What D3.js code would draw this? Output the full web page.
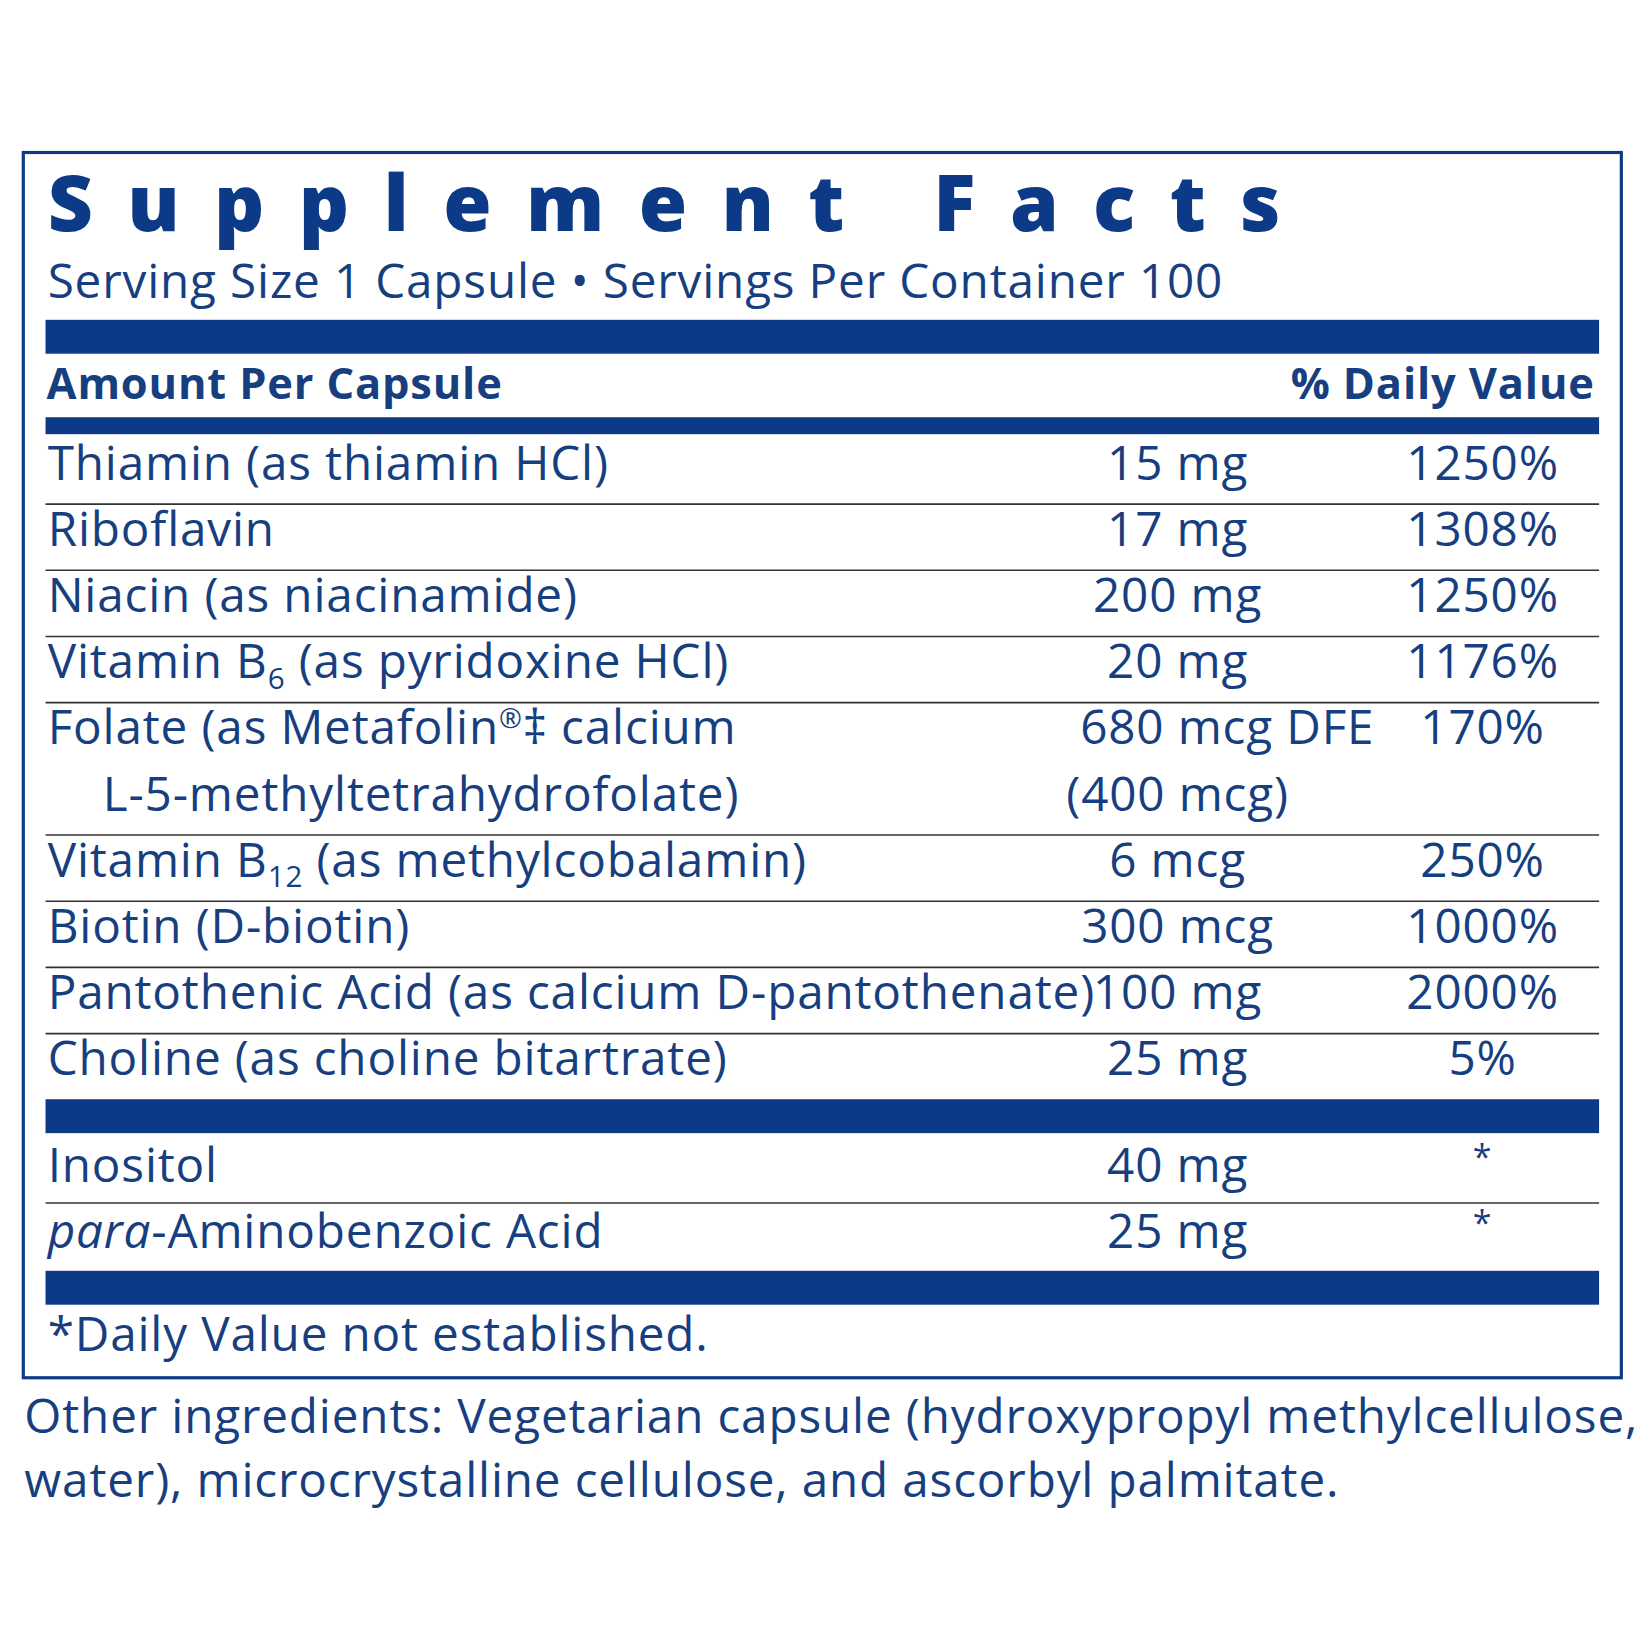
<!DOCTYPE html>
<html><head><meta charset="utf-8">
<script src="https://cdn.jsdelivr.net/npm/d3@7"></script>
<style>body{margin:0;background:#fff}text{font-family:"Open Sans",sans-serif;letter-spacing:0.8px}</style>
</head><body>
<script>
// nutrient rows: name parts [text, style], amount lines, daily value
const names = [
  [["Thiamin (as thiamin HCl)"]],
  [["Riboflavin"]],
  [["Niacin (as niacinamide)"]],
  [["Vitamin B"], ["6", "sub"], [" (as pyridoxine HCl)"]],
  [["Folate (as Metafolin"], ["®", "sup"], ["‡ calcium"]],
  [["Vitamin B"], ["12", "sub"], [" (as methylcobalamin)"]],
  [["Biotin (D-biotin)"]],
  [["Pantothenic Acid (as calcium D-pantothenate)"]],
  [["Choline (as choline bitartrate)"]]
];
const amounts = ["15 mg", "17 mg", "200 mg", "20 mg", "680 mcg DFE", "6 mcg", "300 mcg", "100 mg", "25 mg"];
const dailyValues = ["1250%", "1308%", "1250%", "1176%", "170%", "250%", "1000%", "2000%", "5%"];
const names2 = [[["Inositol"]], [["para", "it"], ["-Aminobenzoic Acid"]]];
const amounts2 = ["40 mg", "25 mg"];
const dailyValues2 = ["*", "*"];

const W = 1652, H = 1652, s = 1.059;
const ink = "#173f80", bar = "#0c3a86";
const L = 43, R = 1510, amtX = 1112, dvX = 1400, fs = 45;

const svg = d3.select("body").append("svg").attr("width", W).attr("height", H);
const g = svg.append("g").attr("transform", `scale(${s})`);

g.append("rect").attr("x", 22).attr("y", 144).attr("width", 1509).attr("height", 1157)
  .attr("fill", "none").attr("stroke", bar).attr("stroke-width", 3);

g.append("text").attr("x", 45).attr("y", 218).attr("fill", bar)
  .attr("font-size", 74).attr("font-weight", 800)
  .attr("textLength", 1165).attr("lengthAdjust", "spacing").text("Supplement Facts");
g.append("text").attr("x", 45).attr("y", 281).attr("fill", ink).attr("font-size", fs)
  .text("Serving Size 1 Capsule • Servings Per Container 100");

function band(y, h) { g.append("rect").attr("x", L).attr("y", y).attr("width", R - L).attr("height", h).attr("fill", bar); }
function rule(y) { g.append("line").attr("x1", L).attr("x2", R).attr("y1", y).attr("y2", y).attr("stroke", "#333").attr("stroke-width", 1.5); }

band(302, 32);
g.append("text").attr("x", L + 1).attr("y", 377).attr("fill", ink).attr("font-size", 41).attr("font-weight", 700).text("Amount Per Capsule");
g.append("text").attr("x", R - 4).attr("y", 377).attr("text-anchor", "end").attr("fill", ink).attr("font-size", 41).attr("font-weight", 700).text("% Daily Value");
band(394, 16);

function nameText(parts, x, y) {
  const t = g.append("text").attr("x", x).attr("y", y).attr("fill", ink).attr("font-size", fs);
  parts.forEach(([txt, st]) => {
    const sp = t.append("tspan").text(txt);
    if (st === "sub") sp.attr("font-size", 28).attr("dy", 10);
    if (st === "sup") sp.attr("font-size", 26).attr("dy", -16);
    if (st === "it") sp.attr("font-style", "italic");
  });
  // reset baseline after shifted tspans
  t.selectAll("tspan").each(function (d, i, n) {
    const prev = i > 0 && n[i - 1].getAttribute("dy");
    if (prev && !this.getAttribute("dy")) d3.select(this).attr("dy", -(+prev));
  });
}

const pitch = 62.5;
let y = 453;
names.forEach((parts, i) => {
  nameText(parts, L + 2, y);
  const wide = amounts[i].length > 8;
  g.append("text").attr("x", wide ? 1020 : amtX).attr("y", y).attr("text-anchor", wide ? "start" : "middle")
    .attr("fill", ink).attr("font-size", fs).text(amounts[i]);
  g.append("text").attr("x", dvX).attr("y", y).attr("text-anchor", "middle")
    .attr("fill", ink).attr("font-size", fs).text(dailyValues[i]);
  if (i === 4) {
    y += pitch;
    nameText([["L-5-methyltetrahydrofolate)"]], 97, y);
    g.append("text").attr("x", amtX).attr("y", y).attr("text-anchor", "middle")
      .attr("fill", ink).attr("font-size", fs).text("(400 mcg)");
  }
  if (i < names.length - 1) rule(y + 23);
  y += pitch;
});

band(1038, 32);
y = 1116;
names2.forEach((parts, i) => {
  nameText(parts, L + 2, y);
  g.append("text").attr("x", amtX).attr("y", y).attr("text-anchor", "middle")
    .attr("fill", ink).attr("font-size", fs).text(amounts2[i]);
  g.append("text").attr("x", dvX).attr("y", y - 12).attr("text-anchor", "middle")
    .attr("fill", ink).attr("font-size", 32).text(dailyValues2[i]);
  if (i === 0) rule(y + 20);
  y += pitch;
});
band(1200, 32);

g.append("text").attr("x", L + 2).attr("y", 1276).attr("fill", ink).attr("font-size", fs).text("*Daily Value not established.");
g.append("text").attr("x", 23).attr("y", 1353).attr("fill", ink).attr("font-size", fs)
  .text("Other ingredients: Vegetarian capsule (hydroxypropyl methylcellulose,");
g.append("text").attr("x", 23).attr("y", 1414).attr("fill", ink).attr("font-size", fs)
  .text("water), microcrystalline cellulose, and ascorbyl palmitate.");
</script>
</body></html>
